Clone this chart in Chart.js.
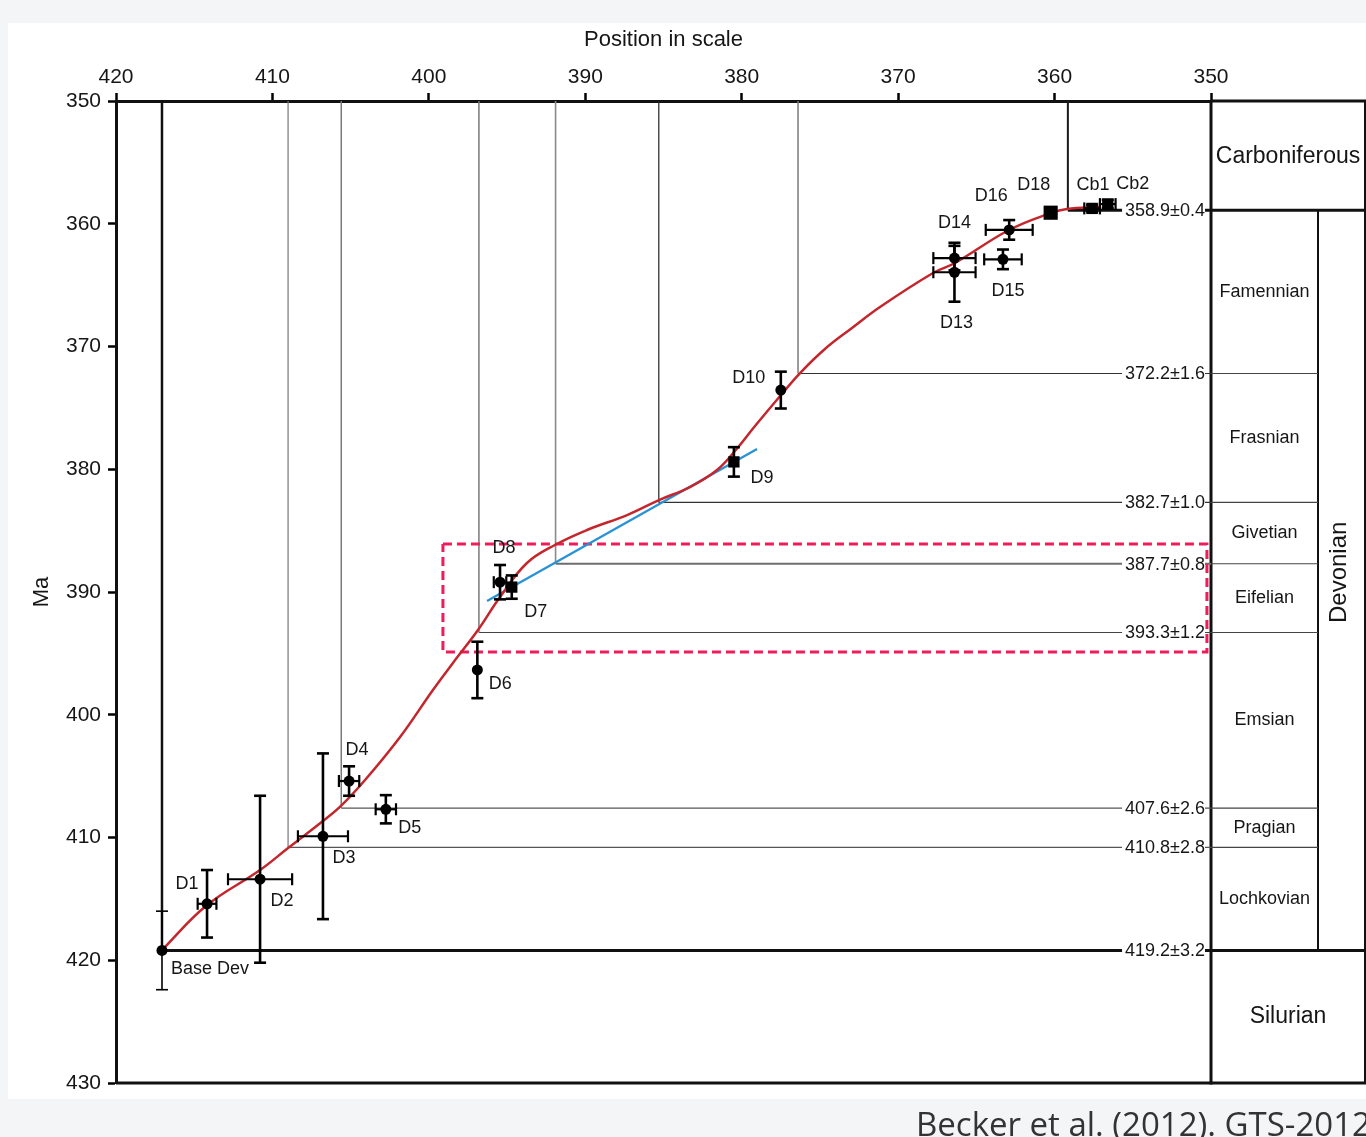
<!DOCTYPE html>
<html>
<head>
<meta charset="utf-8">
<script src="https://cdn.jsdelivr.net/npm/chart.js@4.4.1/dist/chart.umd.min.js"></script>
<style>
  html, body { margin: 0; padding: 0; width: 1366px; height: 1137px; overflow: hidden; background: #f4f5f7; }
  #panel { position: absolute; left: 8px; top: 23px; width: 1358px; height: 1076px; background: #ffffff; }
  #wrap { position: absolute; left: 0; top: 0; width: 1366px; height: 1137px; }
  #cite { position: absolute; left: 916px; top: 1104px; font-family: 'Open Sans', 'Noto Sans', sans-serif;
          font-size: 33px; color: #333; white-space: nowrap; line-height: 1.2; }
</style>
</head>
<body>
<div id="panel"></div>
<div id="wrap"><canvas id="chart" width="1366" height="1137"></canvas></div>
<div id="cite">Becker et al. (2012). GTS-2012</div>
<script>
// ---- Dated tie points: position in scale vs. age (Ma) ----
const pointNames = ['Base Dev', 'D1', 'D2', 'D3', 'D4', 'D5', 'D6', 'D7', 'D8', 'D9', 'D10',
                    'D13', 'D14', 'D15', 'D16', 'D18', 'Cb1', 'Cb2'];
const pointPos   = [417.06, 414.18, 410.79, 406.77, 405.1, 402.75, 396.9, 394.7, 395.45, 380.5, 377.5,
                    366.4, 366.4, 363.3, 362.9, 360.25, 357.6, 356.6];
const pointAge   = [419.2, 415.4, 413.4, 409.9, 405.4, 407.7, 396.35, 389.6, 389.2, 379.4, 373.55,
                    363.95, 362.8, 362.9, 360.5, 359.1, 358.75, 358.4];
const ageErr     = [3.2, 2.75, 6.8, 6.75, 1.2, 1.15, 2.3, 0.95, 1.4, 1.2, 1.5,
                    2.4, 1.0, 0.8, 0.8, 0, 0.3, 0.35];
const posErr     = [0, 0.6, 2.05, 1.6, 0.65, 0.65, 0, 0, 0.4, 0, 0,
                    1.35, 1.35, 1.2, 1.5, 0, 0.5, 0.5];

// ---- Fitted age model (smoothed spline) ----
const curvePos = [417.06, 414.25, 410.79, 409.0, 406.77, 405.62, 404.08, 401.84, 399.74, 398.46, 396.86,
                  395.45, 393.73, 391.94, 389.89, 387.33, 385.29, 383.31, 381.58, 380.43, 379.15, 377.49,
                  376.27, 374.68, 372.95, 371.16, 367.77, 366.37, 362.91, 360.23, 359.21, 357.1];
const curveAge = [419.17, 415.58, 412.65, 410.86, 408.66, 407.43, 405.32, 401.81, 397.98, 395.78, 393.1,
                  390.41, 387.64, 386.17, 384.95, 383.73, 382.51, 381.45, 380.06, 378.51, 376.48, 373.95,
                  372.16, 370.2, 368.49, 366.78, 364.01, 363.2, 360.51, 359.12, 358.8, 358.64];

// ---- Linear fit across the Middle Devonian ----
const trendPos = [396.28, 379.02];
const trendAge = [390.73, 378.35];

// ---- Highlighted interval (Eifelian) ----
const boxPos = [399.1, 350.26];
const boxAge = [386.09, 394.89];

// ---- Stage boundaries ----
const boundaryAge = [358.9, 372.2, 382.7, 387.7, 393.3, 407.6, 410.8, 419.2];
const boundaryErr = ['0.4', '1.6', '1.0', '0.8', '1.2', '2.6', '2.8', '3.2'];
const boundaryPos = [359.15, 376.4, 385.3, 391.9, 396.8, 405.6, 409.0, 417.06];

// ---- Chronostratigraphic column ----
const stageNames  = ['Famennian', 'Frasnian', 'Givetian', 'Eifelian', 'Emsian', 'Pragian', 'Lochkovian'];
const periodNames = ['Carboniferous', 'Devonian', 'Silurian'];

// ---- Axis ticks ----
const posTicks = [420, 410, 400, 390, 380, 370, 360, 350];
const ageTicks = [350, 360, 370, 380, 390, 400, 410, 420, 430];

// ---- Styling ----
const FONT = "'Liberation Sans', Arial, Helvetica, sans-serif";
const INK = '#161616';
const markerStyle = pointNames.map(n => (['D7', 'D9', 'D18', 'Cb1', 'Cb2'].includes(n) ? 'rect' : 'circle'));
const markerSize  = pointNames.map(n => (n === 'D18' ? 10 : (['D7', 'D9', 'Cb1', 'Cb2'].includes(n) ? 8 : 5.5)));
const labelOffset = {
  'Base Dev': [48, 19], D1: [-20, -20], D2: [22, 22], D3: [21, 22], D4: [8, -31], D5: [24, 19],
  D6: [23, 14], D7: [24, 25], D8: [4, -34], D9: [28, 16], D10: [-32, -12], D13: [2, 51],
  D14: [0, -35], D15: [5, 32], D16: [-18, -34], D18: [-17, -28], Cb1: [1, -23], Cb2: [25, -20]
};
const verticalStyle = [
  ['#1a1a1a', 2], ['#7a7a7a', 1.5], ['#222', 1.2], ['#8a8a8a', 1.6],
  ['#7a7a7a', 1.5], ['#7a7a7a', 1.5], ['#777', 1.2], ['#111', 2.5]
];
const horizontalStyle = [
  ['#111', 3], ['#333', 1.2], ['#333', 1.2], ['#6e6e6e', 1.8],
  ['#444', 1.2], ['#555', 1.2], ['#555', 1.2], ['#111', 3]
];

// Boundary guide lines: vertical from the top of the plot to the boundary age,
// then horizontal across to the column.
const boundarySets = [];
boundaryAge.forEach((age, i) => {
  boundarySets.push({
    type: 'line', order: 5,
    data: [{ x: boundaryPos[i], y: 350 }, { x: boundaryPos[i], y: age }],
    borderColor: verticalStyle[i][0], borderWidth: verticalStyle[i][1],
    pointRadius: 0, tension: 0, borderCapStyle: 'butt'
  });
  boundarySets.push({
    type: 'line', order: 5,
    data: [{ x: boundaryPos[i], y: age }, { x: 350, y: age }],
    borderColor: horizontalStyle[i][0], borderWidth: horizontalStyle[i][1],
    pointRadius: 0, tension: 0, borderCapStyle: 'butt'
  });
});

const datasets = [
  {
    type: 'scatter', order: 0, label: 'Tie points',
    data: pointPos.map((p, i) => ({ x: p, y: pointAge[i] })),
    backgroundColor: '#000', borderColor: '#000', borderWidth: 0,
    pointStyle: markerStyle, pointRadius: markerSize
  },
  {
    type: 'line', order: 1, label: 'Age model',
    data: curvePos.map((p, i) => ({ x: p, y: curveAge[i] })),
    borderColor: '#c4262d', borderWidth: 2.5, pointRadius: 0, tension: 0.4
  },
  {
    type: 'line', order: 2, label: 'Linear fit',
    data: trendPos.map((p, i) => ({ x: p, y: trendAge[i] })),
    borderColor: '#2a93d5', borderWidth: 2.4, pointRadius: 0, tension: 0
  },
  {
    type: 'line', order: 3, label: 'Interval',
    data: [
      { x: boxPos[0], y: boxAge[0] }, { x: boxPos[1], y: boxAge[0] },
      { x: boxPos[1], y: boxAge[1] }, { x: boxPos[0], y: boxAge[1] },
      { x: boxPos[0], y: boxAge[0] }
    ],
    borderColor: '#ee1c5b', borderWidth: 3, borderDash: [9, 5],
    pointRadius: 0, tension: 0, borderJoinStyle: 'miter'
  },
  ...boundarySets
];

function line(ctx, x1, y1, x2, y2) {
  ctx.beginPath(); ctx.moveTo(x1, y1); ctx.lineTo(x2, y2); ctx.stroke();
}

const decorations = {
  id: 'decorations',
  beforeDatasetsDraw(chart) {
    const { ctx, chartArea: a } = chart;
    const ys = chart.scales.y;
    const colMid = 1318, colRight = 1365;
    ctx.save();
    ctx.strokeStyle = '#111';
    ctx.lineCap = 'butt';
    // frame of the plot: right and bottom sides
    ctx.lineWidth = 3;
    line(ctx, a.right, a.top, a.right, a.bottom + 1.5);
    line(ctx, a.left, a.bottom, colRight + 1, a.bottom);
    line(ctx, a.right, a.top, 1366, a.top);
    // column outline
    ctx.lineWidth = 2;
    line(ctx, colRight, a.top, colRight, a.bottom);
    const yTop = ys.getPixelForValue(boundaryAge[0]);
    const yBase = ys.getPixelForValue(boundaryAge[boundaryAge.length - 1]);
    line(ctx, colMid, yTop, colMid, yBase);
    // stage boundaries in the column
    boundaryAge.forEach((age, i) => {
      const y = ys.getPixelForValue(age);
      if (i === 0 || i === boundaryAge.length - 1) {
        ctx.lineWidth = 3; ctx.strokeStyle = '#111';
        line(ctx, a.right, y, 1366, y);
      } else {
        ctx.lineWidth = 1.2; ctx.strokeStyle = '#444';
        line(ctx, a.right, y, colMid, y);
      }
    });
    ctx.restore();
  },
  afterDatasetsDraw(chart) {
    const { ctx, chartArea: a } = chart;
    const xs = chart.scales.x, ys = chart.scales.y;
    const colMid = 1318, colRight = 1365;
    ctx.save();

    // boundary age labels sitting on the horizontal lines
    ctx.font = '18px ' + FONT;
    ctx.textAlign = 'right';
    ctx.textBaseline = 'middle';
    boundaryAge.forEach((age, i) => {
      const y = ys.getPixelForValue(age);
      const txt = age.toFixed(1) + '±' + boundaryErr[i];
      const w = ctx.measureText(txt).width;
      const xr = a.right - 6;
      ctx.fillStyle = '#fff';
      ctx.fillRect(xr - w - 3, y - 9, w + 3, 18);
      ctx.fillStyle = INK;
      ctx.fillText(txt, xr, y + 1);
    });

    // error bars
    ctx.strokeStyle = '#000';
    ctx.lineCap = 'butt';
    pointPos.forEach((p, i) => {
      const px = xs.getPixelForValue(p), py = ys.getPixelForValue(pointAge[i]);
      const thin = i === 0;
      const cap = 6;
      if (ageErr[i] > 0) {
        const y1 = ys.getPixelForValue(pointAge[i] - ageErr[i]);
        const y2 = ys.getPixelForValue(pointAge[i] + ageErr[i]);
        ctx.lineWidth = thin ? 1.6 : 2.6;
        line(ctx, px, y1, px, y2);
        line(ctx, px - cap, y1, px + cap, y1);
        line(ctx, px - cap, y2, px + cap, y2);
      }
      if (posErr[i] > 0) {
        const x1 = xs.getPixelForValue(p - posErr[i]);
        const x2 = xs.getPixelForValue(p + posErr[i]);
        ctx.lineWidth = 2.2;
        line(ctx, x1, py, x2, py);
        line(ctx, x1, py - cap, x1, py + cap);
        line(ctx, x2, py - cap, x2, py + cap);
      }
    });

    // tie point names
    ctx.fillStyle = INK;
    ctx.font = '18px ' + FONT;
    ctx.textAlign = 'center';
    ctx.textBaseline = 'middle';
    pointNames.forEach((n, i) => {
      const px = xs.getPixelForValue(pointPos[i]), py = ys.getPixelForValue(pointAge[i]);
      const o = labelOffset[n];
      ctx.fillText(n, px + o[0], py + o[1]);
    });

    // stage names
    const edges = boundaryAge;
    const stageX = (a.right + colMid) / 2;
    stageNames.forEach((s, i) => {
      const y = (ys.getPixelForValue(edges[i]) + ys.getPixelForValue(edges[i + 1])) / 2;
      ctx.fillText(s, stageX, y);
    });

    // period names
    ctx.font = '23px ' + FONT;
    const perX = (a.right + colRight) / 2;
    ctx.fillText(periodNames[0], perX, (ys.getPixelForValue(350) + ys.getPixelForValue(edges[0])) / 2 + 1);
    ctx.fillText(periodNames[2], perX, (ys.getPixelForValue(edges[edges.length - 1]) + ys.getPixelForValue(430)) / 2);
    ctx.save();
    ctx.font = '24px ' + FONT;
    ctx.translate((colMid + colRight) / 2 - 2, (ys.getPixelForValue(edges[0]) + ys.getPixelForValue(edges[edges.length - 1])) / 2 - 8);
    ctx.rotate(-Math.PI / 2);
    ctx.fillText(periodNames[1], 0, 0);
    ctx.restore();

    ctx.restore();
  }
};

new Chart(document.getElementById('chart'), {
  type: 'scatter',
  data: { datasets },
  options: {
    responsive: false,
    animation: false,
    events: [],
    layout: { padding: { left: 27, top: 24, right: 155, bottom: 54 } },
    plugins: { legend: { display: false }, tooltip: { enabled: false } },
    scales: {
      x: {
        type: 'linear', position: 'top', min: 350, max: 420, reverse: true,
        afterBuildTicks(s) { s.ticks = posTicks.map(v => ({ value: v })); },
        afterFit(s) { s.height = 77; },
        ticks: { color: INK, font: { family: FONT, size: 21 }, padding: 3, maxRotation: 0 },
        grid: { drawOnChartArea: false, drawTicks: true, tickLength: 8, tickWidth: 2.5, tickColor: '#000' },
        border: { display: true, color: '#111', width: 3 },
        title: { display: true, text: 'Position in scale', color: INK,
                 font: { family: FONT, size: 22 }, padding: { top: 3, bottom: 0 } }
      },
      y: {
        type: 'linear', position: 'left', min: 350, max: 430, reverse: true,
        afterBuildTicks(s) { s.ticks = ageTicks.map(v => ({ value: v })); },
        afterFit(s) { s.width = 89; },
        ticks: { color: INK, font: { family: FONT, size: 21 }, padding: 7 },
        grid: { drawOnChartArea: false, drawTicks: true, tickLength: 8, tickWidth: 2.5, tickColor: '#000' },
        border: { display: true, color: '#111', width: 3 },
        title: { display: true, text: 'Ma', color: INK,
                 font: { family: FONT, size: 22 }, padding: { top: 2, bottom: 0 } }
      }
    }
  },
  plugins: [decorations]
});
</script>
</body>
</html>
